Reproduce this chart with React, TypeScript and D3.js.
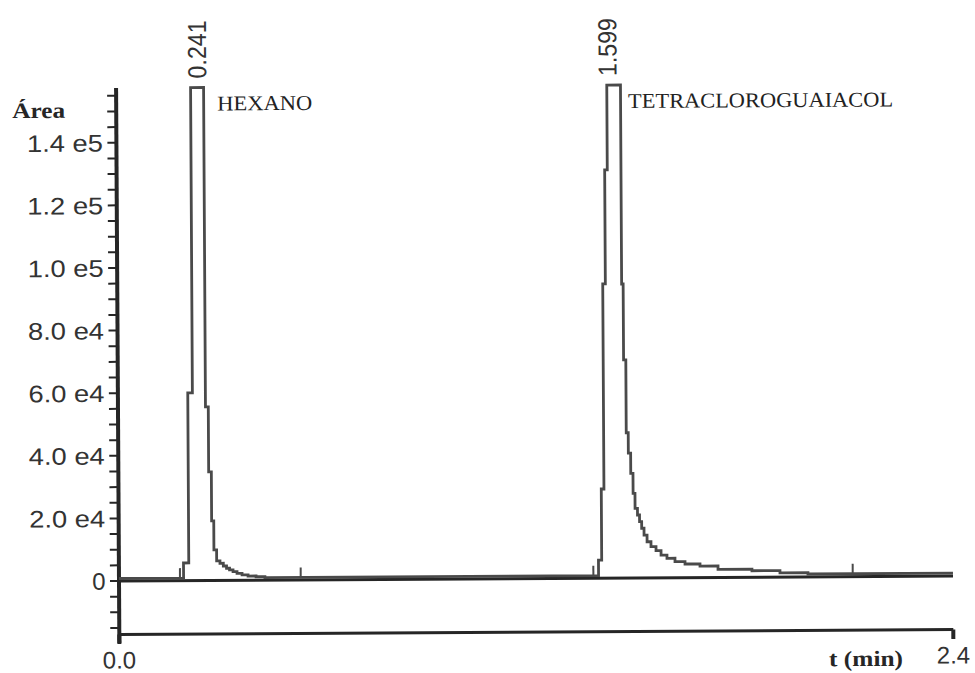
import React from "react";
import * as d3 from "d3";

// Detector trace (step-wise samples): retention time in min, area counts
const traceTime = [
  0.0, 0.1859, 0.2011, 0.2144, 0.2518, 0.2599, 0.2676, 0.2737, 0.2814, 0.2909,
  0.3005, 0.3097, 0.3183, 0.3283, 0.3398, 0.3542, 0.3715, 0.3945, 0.42,
  1.3801, 1.3894, 1.3971, 1.4046, 1.4121, 1.4515, 1.4558, 1.4622, 1.4679,
  1.4745, 1.4809, 1.4863, 1.4932, 1.499, 1.505, 1.5117, 1.5203, 1.5315,
  1.5459, 1.5603, 1.5773, 1.6003, 1.6291, 1.6722, 1.724, 1.8216, 1.9022,
  1.9827, 2.4,
];
const traceArea = [
  800, 5620, 59940, 157500, 55430, 34670, 19010, 9740, 6230, 5460,
  4600, 3870, 3320, 2780, 2200, 1730, 1340, 1090, 800,
  5780, 28470, 93970, 130390, 157500, 93930, 69650, 46390, 39900,
  33420, 27030, 22240, 20100, 17960, 15850, 13670, 11530, 9940,
  8660, 7250, 6200, 5110, 4350, 3670, 2590, 2080, 1370,
  930, 930,
];

// Integration start / end markers
const markTime = [0.1755, 0.523, 1.3652, 2.1115];

// Peak annotations
const peakNames = ["HEXANO", "TETRACLOROGUAIACOL"];
const peakRt = ["0.241", "1.599"];
const peakRtAt = [0.2328, 1.4135];
const peakNameAt = [0.2909, 1.4731];
const peakNameWidth = [95, 265];

// Axes
const xDomain = [0, 2.4];
const yDomain = [-19800, 157500];
const yMajor = [0, 20000, 40000, 60000, 80000, 100000, 120000, 140000];
const yMajorLabels = ["0", "2.0 e4", "4.0 e4", "6.0 e4", "8.0 e4", "1.0 e5", "1.2 e5", "1.4 e5"];
const yMinorStep = 5000;
const xTicks = [0, 2.4];
const xTickLabels = ["0.0", "2.4"];

const W = 975;
const H = 673;
const plot = { left: 119, right: 953, top: 85.5, bottom: 640.5, frameY: 632 };

const ink = "#262626";
const traceInk = "#4a4a4a";
const labelInk = "#333";
const sans = "'Liberation Sans', Arial, sans-serif";
const serif = "'Liberation Serif', 'Times New Roman', serif";

export default function App() {
  const x = d3.scaleLinear().domain(xDomain).range([plot.left, plot.right]);
  const y = d3.scaleLinear().domain(yDomain).range([plot.bottom, plot.top]).clamp(true);

  const pts: [number, number][] = traceTime.map((t, i) => [t, traceArea[i]]);
  const line = d3
    .line<[number, number]>()
    .x((d) => x(d[0]))
    .y((d) => y(d[1]))
    .curve(d3.curveStepAfter);

  const minor = d3.range(-15000, yDomain[1], yMinorStep);
  const valueAt = (t: number) => traceArea[Math.max(0, d3.bisectRight(traceTime, t) - 1)];

  return (
    <div style={{ position: "absolute", left: 0, top: 0 }}>
      <svg width={W} height={H} viewBox={`0 0 ${W} ${H}`} style={{ display: "block", background: "#fff" }}>
        <g transform="rotate(-0.34 535 580)">
          {/* y axis */}
          <line x1={plot.left} x2={plot.left} y1={y(yDomain[1])} y2={plot.bottom} stroke={ink} strokeWidth={4} />
          {minor.map((v) => (
            <line key={v} x1={plot.left - 9} x2={plot.left} y1={y(v)} y2={y(v)} stroke={ink} strokeWidth={2} />
          ))}
          {yMajor.map((v, i) => (
            <text
              key={v}
              x={105.5}
              y={y(v)}
              dy="0.36em"
              textAnchor="end"
              fontFamily={sans}
              fontSize={24}
              fill={labelInk}
              {...(yMajorLabels[i].length > 1 ? { textLength: 76, lengthAdjust: "spacingAndGlyphs" } : {})}
            >
              {yMajorLabels[i]}
            </text>
          ))}
          <text x={15} y={115} fontFamily={serif} fontWeight="bold" fontSize={22} fill={ink} textLength={53} lengthAdjust="spacingAndGlyphs">
            Área
          </text>

          {/* zero line */}
          <line x1={x(xDomain[0])} x2={x(xDomain[1])} y1={y(0)} y2={y(0)} stroke={ink} strokeWidth={3} />

          {/* time axis frame */}
          <line x1={x(xDomain[0])} x2={x(xDomain[1])} y1={plot.frameY} y2={plot.frameY} stroke={ink} strokeWidth={3} />
          {xTicks.map((t) => (
            <line key={t} x1={x(t)} x2={x(t)} y1={plot.frameY} y2={plot.bottom + 1} stroke={ink} strokeWidth={4} />
          ))}
          {xTicks.map((t, i) => (
            <text key={t} x={x(t)} y={666} textAnchor="middle" fontFamily={sans} fontSize={24} fill={labelInk}>
              {xTickLabels[i]}
            </text>
          ))}
          <text x={828.5} y={668} fontFamily={serif} fontWeight="bold" fontSize={22} fill={ink} textLength={74} lengthAdjust="spacingAndGlyphs">
            t (min)
          </text>

          {/* trace */}
          <path d={line(pts) ?? ""} fill="none" stroke={traceInk} strokeWidth={2.8} strokeLinejoin="miter" />

          {/* integration markers */}
          {markTime.map((t) => (
            <line key={t} x1={x(t)} x2={x(t)} y1={y(valueAt(t))} y2={y(valueAt(t)) - 10} stroke={traceInk} strokeWidth={2} />
          ))}

          {/* peak annotations */}
          {peakRt.map((s, i) => (
            <text
              key={s}
              transform={`translate(${x(peakRtAt[i]) + 9.3},${y(yDomain[1]) - 9}) rotate(-90)`}
              fontFamily={sans}
              fontSize={26}
              fill={labelInk}
              textLength={58}
              lengthAdjust="spacingAndGlyphs"
            >
              {s}
            </text>
          ))}
          {peakNames.map((s, i) => (
            <text
              key={s}
              x={x(peakNameAt[i])}
              y={108.5}
              fontFamily={serif}
              fontSize={21}
              fill="#222"
              textLength={peakNameWidth[i]}
              lengthAdjust="spacingAndGlyphs"
            >
              {s}
            </text>
          ))}
        </g>
      </svg>
    </div>
  );
}
